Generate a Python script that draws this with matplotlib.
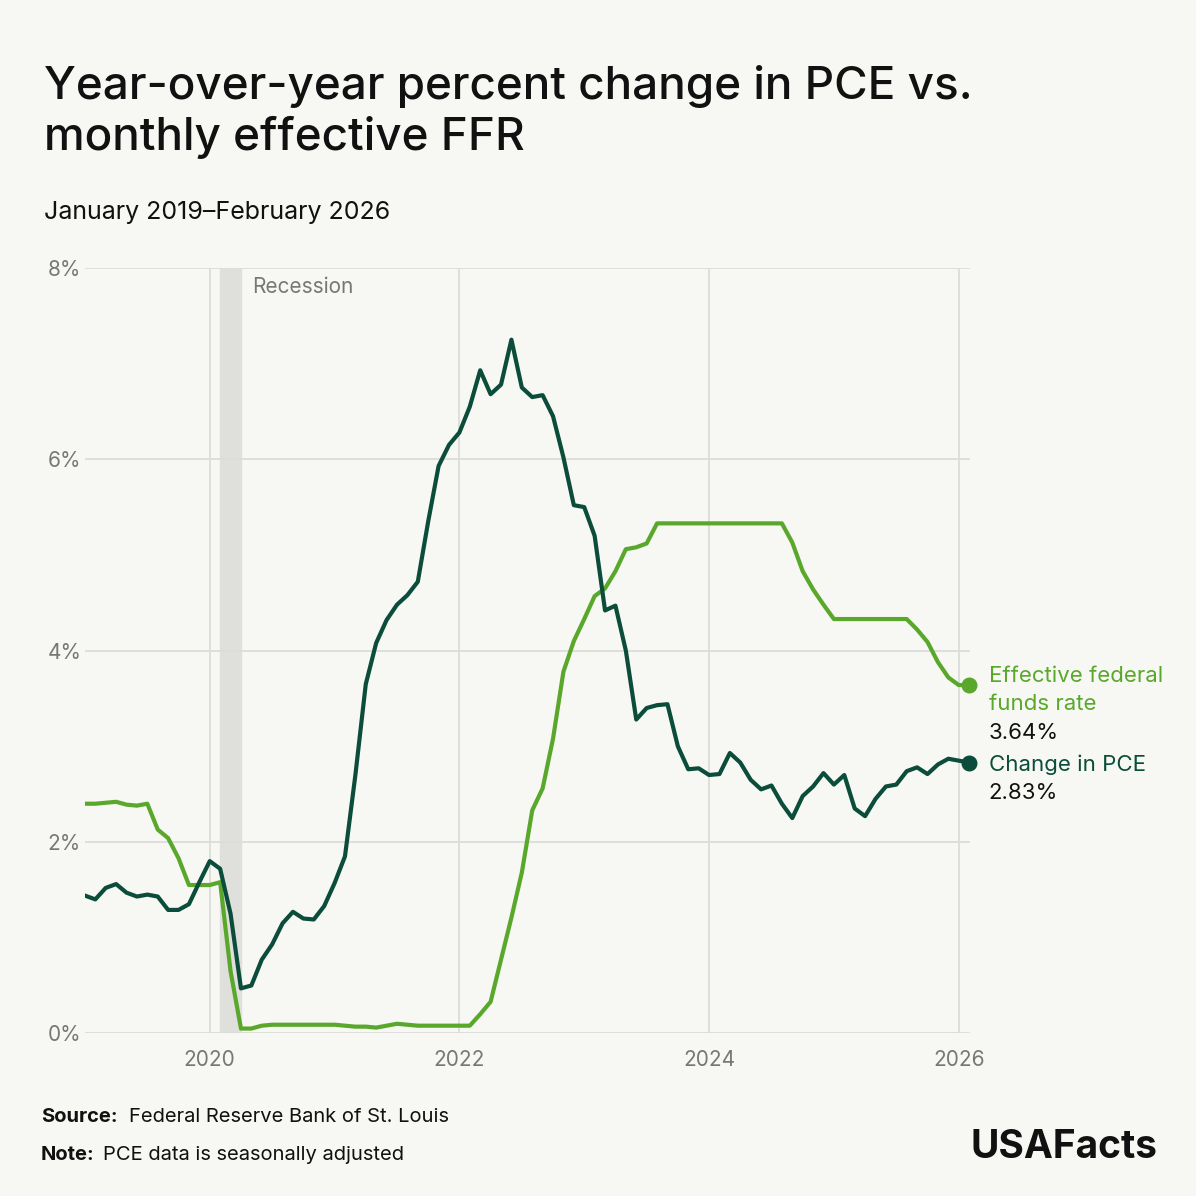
import matplotlib
matplotlib.use("Agg")
import matplotlib.pyplot as plt
import numpy as np

plt.rcParams['font.family'] = ['Inter', 'DejaVu Sans']

pce = [1.44, 1.40, 1.52, 1.56, 1.47, 1.43, 1.45, 1.43, 1.29, 1.29, 1.35, 1.58,
       1.80, 1.72, 1.25, 0.47, 0.50, 0.77, 0.93, 1.15, 1.27, 1.20, 1.19, 1.33,
       1.57, 1.85, 2.70, 3.65, 4.08, 4.32, 4.48, 4.58, 4.72, 5.35, 5.93, 6.15,
       6.28, 6.55, 6.93, 6.68, 6.78, 7.25, 6.75, 6.65, 6.67, 6.45, 6.02, 5.52,
       5.50, 5.20, 4.42, 4.47, 4.00, 3.28, 3.40, 3.43, 3.44, 3.00, 2.76, 2.77,
       2.70, 2.71, 2.93, 2.83, 2.65, 2.55, 2.59, 2.40, 2.25, 2.48, 2.58, 2.72,
       2.60, 2.70, 2.35, 2.27, 2.45, 2.58, 2.60, 2.74, 2.78, 2.71, 2.81, 2.87,
       2.85, 2.83]
ffr = [2.40, 2.40, 2.41, 2.42, 2.39, 2.38, 2.40, 2.13, 2.04, 1.83, 1.55, 1.55,
       1.55, 1.58, 0.65, 0.05, 0.05, 0.08, 0.09, 0.09, 0.09, 0.09, 0.09, 0.09,
       0.09, 0.08, 0.07, 0.07, 0.06, 0.08, 0.10, 0.09, 0.08, 0.08, 0.08, 0.08,
       0.08, 0.08, 0.20, 0.33, 0.77, 1.21, 1.68, 2.33, 2.56, 3.08, 3.78, 4.10,
       4.33, 4.57, 4.65, 4.83, 5.06, 5.08, 5.12, 5.33, 5.33, 5.33, 5.33, 5.33,
       5.33, 5.33, 5.33, 5.33, 5.33, 5.33, 5.33, 5.33, 5.13, 4.83, 4.64, 4.48,
       4.33, 4.33, 4.33, 4.33, 4.33, 4.33, 4.33, 4.33, 4.22, 4.09, 3.88, 3.72,
       3.64, 3.64]
t = 2019 + np.arange(len(pce)) / 12

bg = '#f7f7f3'
dark = '#0b4d3a'
light = '#5aa82b'
gray = '#777777'
ink = '#111111'

fig = plt.figure(figsize=(11.96, 11.96), dpi=100, facecolor=bg)
ax = fig.add_axes([0.071, 0.136, 0.74, 0.64], facecolor=bg)

ax.axvspan(2020 + 1/12, 2020 + 3/12, color='#dfdfdb', zorder=0)
ax.text(2020 + 4.1/12, 7.9, 'Recession', color=gray, fontsize=15, va='top')

ax.plot(t, ffr, color=light, lw=3, zorder=3)
ax.plot(t, pce, color=dark, lw=3, zorder=4)
ax.scatter([t[-1]], [ffr[-1]], color=light, s=110, zorder=5, clip_on=False)
ax.scatter([t[-1]], [pce[-1]], color=dark, s=110, zorder=5, clip_on=False)

ax.set_xlim(2019, 2026.09)
ax.set_ylim(0, 8)
ax.set_yticks([0, 2, 4, 6, 8])
ax.set_yticklabels(['0%', '2%', '4%', '6%', '8%'])
ax.set_xticks([2020, 2022, 2024, 2026])
ax.set_xticklabels(['2020', '2022', '2024', '2026'])
ax.tick_params(length=0, labelsize=15, labelcolor=gray, pad=12)
ax.tick_params(axis='y', pad=27)
for lab in ax.get_yticklabels():
    lab.set_horizontalalignment('left')
ax.grid(True, color='#dcdcd8', lw=1.3)
ax.set_axisbelow(True)
for s in ax.spines.values():
    s.set_visible(False)

lx = 2026.24
ax.text(lx, ffr[-1] + 0.10, 'Effective federal', color=light, fontsize=16, va='center')
ax.text(lx, ffr[-1] - 0.20, 'funds rate', color=light, fontsize=16, va='center')
ax.text(lx, ffr[-1] - 0.50, '3.64%', color=ink, fontsize=16, va='center')
ax.text(lx, pce[-1] - 0.02, 'Change in PCE', color=dark, fontsize=16, va='center')
ax.text(lx, pce[-1] - 0.32, '2.83%', color=ink, fontsize=16, va='center')

fig.text(0.037, 0.946, 'Year-over-year percent change in PCE vs.\nmonthly effective FFR',
         fontsize=33, fontweight='medium', va='top', linespacing=1.25, color=ink)
fig.text(0.037, 0.817, 'January 2019\u2013February 2026', fontsize=18, color=ink)
fig.text(0.034, 0.062, 'Source:', fontsize=14.5, fontweight='bold', color=ink)
fig.text(0.108, 0.062, 'Federal Reserve Bank of St. Louis', fontsize=14.5, color=ink)
fig.text(0.034, 0.030, 'Note:', fontsize=14.5, fontweight='bold', color=ink)
fig.text(0.086, 0.030, 'PCE data is seasonally adjusted', fontsize=14.5, color=ink)
fig.text(0.968, 0.032, 'USAFacts', fontsize=28, fontweight='bold', ha='right', color=ink)

fig.savefig('out.png', dpi=100, facecolor=bg)
